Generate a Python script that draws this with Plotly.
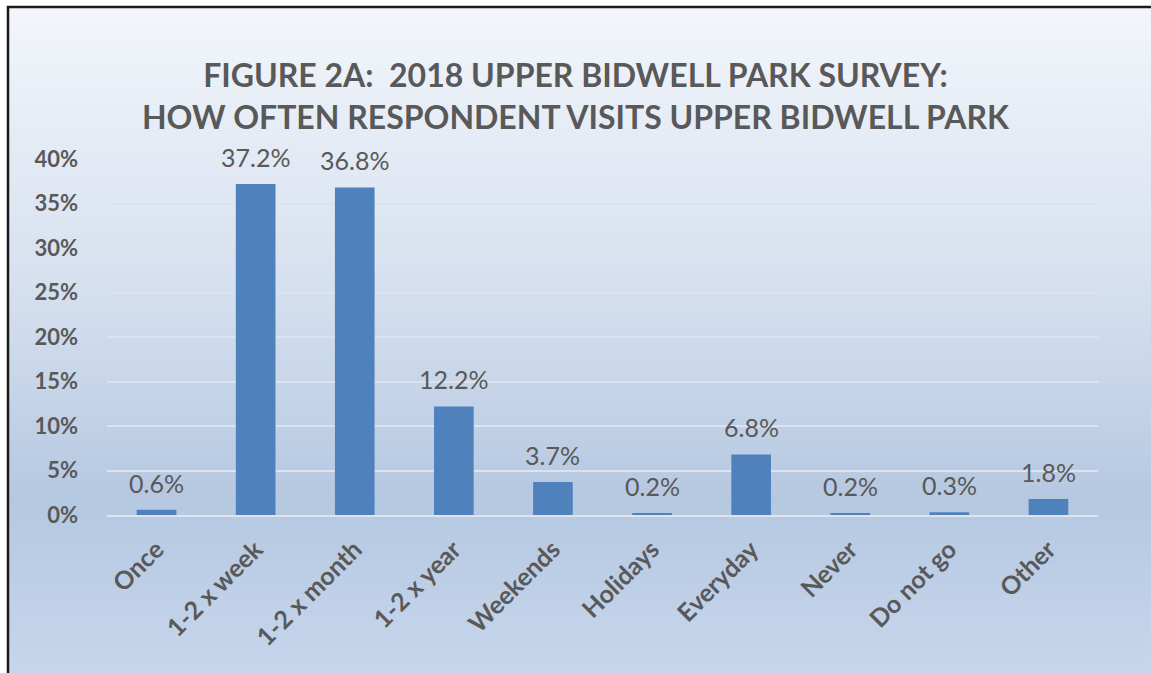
import plotly.graph_objects as go

categories = ["Once", "1-2 x week", "1-2 x month", "1-2 x year", "Weekends",
              "Holidays", "Everyday", "Never", "Do not go", "Other"]
values = [0.6, 37.2, 36.8, 12.2, 3.7, 0.2, 6.8, 0.2, 0.3, 1.8]
y_ticks = [0, 5, 10, 15, 20, 25, 30, 35, 40]
y_tick_labels = [f"{v}%" for v in y_ticks]

W, H = 1151, 673
L, R, T, B = 107, 53, 159, 158
pw, ph = W - L - R, H - T - B

def px_to_paper_x(px):
    return (px - L) / pw

def py_to_paper_y(py):
    return (H - B - py) / ph

def lerp(c1, c2, t):
    return tuple(round(a + (b - a) * t) for a, b in zip(c1, c2))

# gradient stops (pixel y, rgb)
stops = [(7, (243, 246, 251)), (300, (212, 223, 238)), (500, (181, 200, 225)), (673, (198, 214, 236))]

shapes = []
n = 110
y_top, y_bot = 7, 673
for i in range(n):
    ya = y_top + (y_bot - y_top) * i / n
    yb = y_top + (y_bot - y_top) * (i + 1) / n + 1
    ym = (ya + yb) / 2
    for j in range(len(stops) - 1):
        if stops[j][0] <= ym <= stops[j + 1][0]:
            t = (ym - stops[j][0]) / (stops[j + 1][0] - stops[j][0])
            c = lerp(stops[j][1], stops[j + 1][1], t)
            break
    else:
        c = stops[-1][1]
    shapes.append(dict(type="rect", xref="paper", yref="paper", layer="below",
                       x0=px_to_paper_x(8), x1=px_to_paper_x(1160),
                       y0=py_to_paper_y(yb), y1=py_to_paper_y(ya),
                       line=dict(width=0), fillcolor=f"rgb{c}"))

# frame
shapes.append(dict(type="rect", xref="paper", yref="paper", layer="above",
                   x0=px_to_paper_x(8), x1=px_to_paper_x(1170),
                   y0=py_to_paper_y(690), y1=py_to_paper_y(7),
                   line=dict(color="#1a1a1a", width=2.5), fillcolor="rgba(0,0,0,0)"))

font_family = "Lato, 'Open Sans', sans-serif"

fig = go.Figure(go.Bar(
    x=categories, y=values,
    marker=dict(color="#4f81bd", line=dict(width=0)),
    cliponaxis=False,
))

annotations = [
    dict(x=c, y=v, xref="x", yref="y", text=f"{v:.1f}%", showarrow=False,
         xanchor="center", yanchor="bottom", yshift=10,
         font=dict(family=font_family, size=25, color="#595959"))
    for c, v in zip(categories, values)
]

fig.update_layout(
    width=W, height=H,
    margin=dict(l=L, r=R, t=T, b=B),
    paper_bgcolor="white",
    plot_bgcolor="rgba(0,0,0,0)",
    shapes=shapes,
    annotations=annotations,
    bargap=0.6,
    showlegend=False,
    title=dict(
        text="FIGURE 2A:  2018 UPPER BIDWELL PARK SURVEY:<br>HOW OFTEN RESPONDENT VISITS UPPER BIDWELL PARK",
        x=0.5, xref="container", xanchor="center",
        y=1 - 87 / H, yanchor="top",
        font=dict(family=font_family, size=32, color="#595959", weight="bold"),
    ),
    xaxis=dict(
        tickangle=-45,
        tickfont=dict(family=font_family, size=25, color="#595959", weight="bold"),
        showgrid=False,
        showline=True, linecolor="#dfe4ec", linewidth=2,
        ticks="",
        ticklabelstandoff=8,
    ),
    yaxis=dict(
        range=[0, 40],
        tickvals=y_ticks, ticktext=y_tick_labels,
        tickfont=dict(family=font_family, size=22, color="#595959", weight="bold"),
        showgrid=True, gridcolor="#dde3ec", gridwidth=2,
        zeroline=False, showline=False, ticks="",
        ticklabelstandoff=28,
    ),
)

fig.write_html("out.html")
